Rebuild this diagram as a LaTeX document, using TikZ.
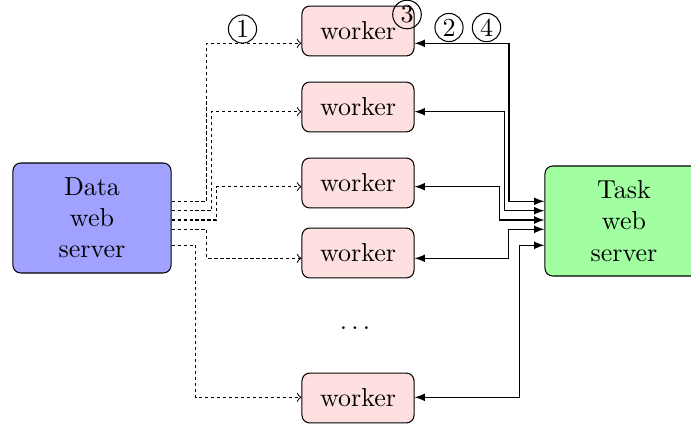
\documentclass[tikz,border=0pt]{standalone}
\usetikzlibrary{arrows}
\tikzset{
  box/.style={draw, rounded corners=3pt, align=center},
  serverbox/.style={box, minimum width=60.8pt, minimum height=42.3pt},
  workerbox/.style={box, fill=red!12, minimum width=43.1pt, minimum height=19.2pt},
  num/.style={draw, circle, inner sep=0.9pt},
  datalink/.style={->, dash pattern=on 1.3pt off 1pt},
  tasklink/.style={latex-latex},
}
\begin{document}
\begin{tikzpicture}[x=0.3846pt,y=-0.3846pt]
\useasboundingbox (0,0) rectangle (691,424);
% servers
\node[serverbox, fill=blue!37] (data) at (92,218) {Data\\web\\server};
\node[serverbox, fill=green!37] (task) at (624,221) {Task\\web\\server};
% workers
\node[workerbox] (worker1) at (358,31) {worker};
\node[workerbox] (worker2) at (358,107) {worker};
\node[workerbox] (worker3) at (358,183) {worker};
\node[workerbox] (worker4) at (358,253) {worker};
\node (dots) at (355,328) {$\ldots$};
\node[workerbox] (worker5) at (358,398) {worker};
% steps
\node[num] (one) at (242.5,29) {1};
\node[num] (two) at (449,27.5) {2};
\node[num] (three) at (407,14.5) {3};
\node[num] (four) at (486.5,27.5) {4};
% data server to workers
\draw[datalink] (data.east |- 0,201.3) -| (206.7,43.3) -- (worker1.west |- 0,43.3);
\draw[datalink] (data.east |- 0,210.7) -| (211.7,111.7) -- (worker2.west |- 0,111.7);
\draw[datalink] (data.east |- 0,220) -| (216.7,186.7) -- (worker3.west |- 0,186.7);
\draw[datalink] (data.east |- 0,229.3) -| (206.7,258.3) -- (worker4.west |- 0,258.3);
\draw[datalink] (data.east |- 0,245.3) -| (195.7,397.3) -- (worker5.west |- 0,397.3);
% workers to task server
\draw[tasklink] (worker1.east |- 0,43.3) -| (509,201.3) -- (task.west |- 0,201.3);
\draw[tasklink] (worker2.east |- 0,111.7) -| (504.3,210.7) -- (task.west |- 0,210.7);
\draw[tasklink] (worker3.east |- 0,186.7) -| (499.3,220) -- (task.west |- 0,220);
\draw[tasklink] (worker4.east |- 0,258.3) -| (508.3,229.3) -- (task.west |- 0,229.3);
\draw[tasklink] (worker5.east |- 0,397.3) -| (519.3,245.3) -- (task.west |- 0,245.3);
\end{tikzpicture}
\end{document}
